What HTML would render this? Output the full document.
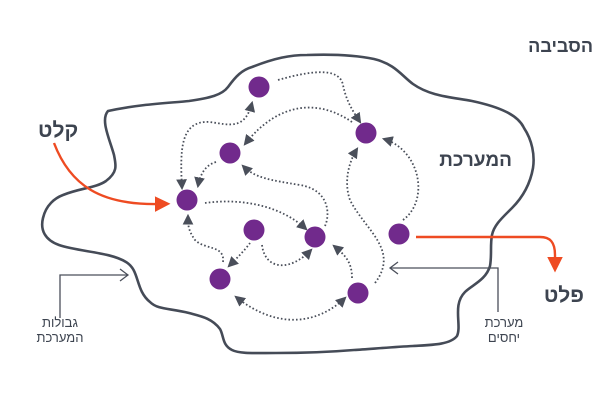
<!DOCTYPE html>
<html><head><meta charset="utf-8"><style>
body{margin:0;background:#fff}
svg{display:block}
text{font-family:"Liberation Sans","Noto Sans CJK SC",sans-serif;fill:#3d4450}
</style></head><body>
<svg width="610" height="400" viewBox="0 0 610 400" xmlns="http://www.w3.org/2000/svg">
<defs>
<marker id="a" viewBox="0 0 10 10" refX="8" refY="5" markerWidth="6" markerHeight="6" orient="auto-start-reverse"><path d="M0,0 L10,5 L0,10 z" fill="#4a4f5a"/></marker>
<marker id="o" viewBox="0 0 10 10" refX="2" refY="5" markerWidth="6.5" markerHeight="6.5" orient="auto"><path d="M0,0 L10,5 L0,10 z" fill="#ee4b22"/></marker>
</defs>
<path d="M108,111 C140,104 170,103 189,101 C210,98 222,95 228,87 C236,76 242,70 252,67 C275,58 290,55 307,55 C335,54 355,55 374,59 C395,64 402,76 413,84 C430,96 450,97 472,101 C500,107 518,115 524,128 C532,140 535,155 533,168 C530,185 522,198 512,208 C502,218 494,225 492,235 C490,245 492,255 490,266 C486,280 472,285 465,292 C452,305 462,325 457,336 C450,345 430,345 413,346 C393,347 370,349 354,350 C330,352 300,353 276,353 C255,353 240,354 232,350 C222,345 224,336 220,329 C212,318 200,316 189,313 C170,308 158,310 150,302 C135,290 140,270 126,262 C110,252 80,252 59,245 C45,240 40,230 43,218 C46,205 55,198 63,195 C80,188 96,188 106,181 C118,172 116,165 114,155 C110,140 100,120 108,111 Z" fill="none" stroke="#454b57" stroke-width="2.6"/>
<g fill="none" stroke="#4a4f5a" stroke-width="1.8" stroke-dasharray="1.6 2.2" marker-end="url(#a)">
<path d="M278,80 C320,68 340,70 343,85 C346,100 352,110 360,122"/>
<path d="M352,122 C320,100 280,100 245,144"/>
<path d="M216,162 C205,165 200,175 198,186"/>
<path d="M182,188 C180,150 180,120 210,122 C230,125 245,130 252,103" marker-start="url(#a)"/>
<path d="M325,226 C330,215 330,190 300,185 C270,180 255,178 243,166"/>
<path d="M205,203 C240,198 280,205 306,229"/>
<path d="M223,262 C225,245 205,250 195,240 C188,230 188,225 188,216"/>
<path d="M250,243 C245,250 237,258 229,266"/>
<path d="M262,245 C265,270 290,272 311,250"/>
<path d="M352,278 C352,262 345,255 334,246"/>
<path d="M375,283 C400,250 365,230 350,200 C343,180 350,160 357,149"/>
<path d="M403,220 C430,200 420,150 384,139"/>
<path d="M345,298 C320,322 280,332 236,297" marker-start="url(#a)"/>
</g>
<g fill="#712a8c">
<circle cx="259" cy="87" r="10.5"/><circle cx="366" cy="133" r="10.5"/><circle cx="230" cy="153" r="10.5"/>
<circle cx="187" cy="200" r="10.5"/><circle cx="254" cy="230" r="10.5"/><circle cx="315" cy="237" r="10.5"/>
<circle cx="399" cy="234" r="10.5"/><circle cx="220" cy="279" r="10.5"/><circle cx="358" cy="293" r="10.5"/>
</g>
<path d="M54,143 C70,185 100,205 158,204" fill="none" stroke="#ee4b22" stroke-width="2.4" marker-end="url(#o)"/>
<path d="M416,237 L540,237 C550,237 555,242 555,255 L555,260" fill="none" stroke="#ee4b22" stroke-width="2.4" marker-end="url(#o)"/>
<g fill="none" stroke="#4a4f5a" stroke-width="1.3">
<path d="M60,318 L60,275 L128,275"/><path d="M120,269 L128,275 L120,281"/>
<path d="M498,312 L498,268 L390,268"/><path d="M398,262 L390,268 L398,274"/>
</g>
<text x="593" y="52" font-size="18" font-weight="bold" text-anchor="end">הסביבה</text>
<text x="38" y="137" font-size="21" font-weight="bold">קלט</text>
<text x="512" y="166" font-size="19" font-weight="bold" text-anchor="end">המערכת</text>
<text x="584" y="302" font-size="21" font-weight="bold" text-anchor="end">פלט</text>
<text x="60" y="327" font-size="13" text-anchor="middle">גבולות</text>
<text x="60" y="342" font-size="13" text-anchor="middle">המערכת</text>
<text x="504" y="327" font-size="13" text-anchor="middle">מערכת</text>
<text x="504" y="342" font-size="13" text-anchor="middle">יחסים</text>
</svg>
</body></html>
